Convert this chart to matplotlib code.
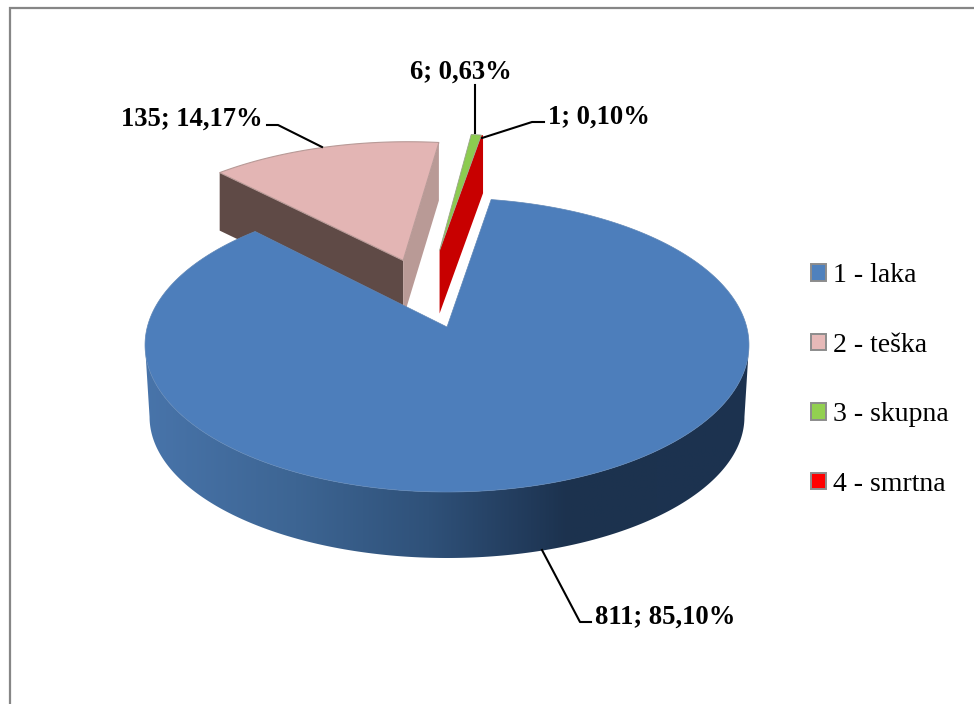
#!/usr/bin/env python3
"""3D looking exploded pie, built from polygons with a small perspective model."""

import numpy as np
import matplotlib
matplotlib.use('Agg')
import matplotlib.pyplot as plt
from matplotlib.colors import LinearSegmentedColormap
from matplotlib.patches import Patch, Polygon

categories = ['1 - laka', '2 - teška', '3 - skupna', '4 - smrtna']
counts = [811, 135, 6, 1]

top_colors = ['#4D7EBB', '#E3B5B4', '#8CCB50', '#C80000']
legend_colors = ['#4F81BD', '#E6B9B8', '#92D050', '#FF0000']

# pie geometry in pixels
TIP_X, TIP_Y = 447, 327
K_X, K_Y, PERSP = 299.7, 144.8, 0.1224
START_ANGLE = 9.5

# explode offset of each slice on the disc plane, radius and extrusion depth
offsets = [(0, 0), (-0.155, 0.487), (-0.0265, 0.565), (-0.0265, 0.565)]
radii = [1, 1.03, 1.03, 1.03]
depths = [66, 58, 58, 58]

plt.rcParams['font.family'] = ['Liberation Serif', 'DejaVu Serif']


def project(u, v):
    w = 1 + PERSP * np.asarray(v)
    return TIP_X + K_X * np.asarray(u) / w, TIP_Y - K_Y * np.asarray(v) / w


def rim(a0, a1, offset, radius=1, n=200):
    t = np.radians(np.linspace(a0, a1, n))
    return project(radius * np.sin(t) + offset[0], radius * np.cos(t) + offset[1])


def face(x, y, color, zorder, edge='none', lw=0):
    ax.add_patch(Polygon(np.column_stack([x, y]), closed=True, facecolor=color,
                         edgecolor=edge, linewidth=lw, zorder=zorder))


fig = plt.figure(figsize=(9.74, 7.04), dpi=100)
ax = fig.add_axes([0, 0, 1, 1])
ax.axis('off')

# slice angles, clockwise from the top
fractions = np.array(counts) / sum(counts)
edges = START_ANGLE + 360 * np.concatenate([[0], np.cumsum(fractions)])

# pink slice: two cut faces and the top
a0, a1 = edges[1], edges[2]
tx, ty = project(*offsets[1])
rx, ry = rim(a0, a1, offsets[1], radii[1])
d = depths[1]
face([tx, rx[0], rx[0], tx], [ty, ry[0], ry[0] + d, ty + d], '#5F4A46', 2)
face([tx, rx[-1], rx[-1], tx], [ty, ry[-1], ry[-1] + d, ty + d], '#B99A96', 2)
face(np.r_[tx, rx], np.r_[ty, ry], top_colors[1], 3, edge='#B89A97', lw=0.8)

# red slice, mostly its cut face
a0, a1 = edges[3], edges[4]
tx, ty = project(*offsets[3])
rx, ry = rim(a0, a1, offsets[3], radii[3])
d = depths[3]
face([tx, rx[0], rx[-1], rx[-1], tx], [ty, ry[0], ry[-1], ry[-1] + d, ty + d + 5],
     top_colors[3], 4)

# green slice sits on top of the red one at the far end
a0, a1 = edges[2], edges[3]
tx, ty = project(*offsets[2])
rx, ry = rim(a0, a1, offsets[2], radii[2])
face(np.r_[tx, rx], np.r_[ty, ry], top_colors[2], 5, edge='#9AA58A', lw=0.6)

# blue slice: outer wall with horizontal shading, then the top
a0, a1 = edges[0], edges[1]
d = depths[0]
side = np.degrees(np.arccos(-PERSP))
wx, wy = rim(side, 360 - side, offsets[0])
bx = TIP_X + (wx - TIP_X) * 0.985
by = wy + d + (wy.max() - wy) * 0.04
wall = Polygon(np.column_stack([np.r_[wx, bx[::-1]], np.r_[wy, by[::-1]]]),
               closed=True, facecolor='none', edgecolor='none')
ax.add_patch(wall)
shade = LinearSegmentedColormap.from_list(
    'wall', [(0, '#4874AA'), (0.25, '#3D6593'), (0.47, '#2F5179'),
             (0.64, '#213A5A'), (0.70, '#1C324E'), (1, '#1C3350')])
img = ax.imshow(np.linspace(0, 1, 256)[None, :], cmap=shade, aspect='auto',
                extent=[wx.min(), wx.max(), by.max(), wy.min()], zorder=6)
img.set_clip_path(wall)

rx, ry = rim(a0, a1, offsets[0], radii[0], n=600)
face(np.r_[TIP_X, rx], np.r_[TIP_Y, ry], top_colors[0], 7, edge='#5F86B6', lw=0.5)

ax.set_xlim(0, 974)
ax.set_ylim(704, 0)

# chart frame: only left and top edges fall inside the picture
ax.plot([10, 10, 974], [704, 8, 8], color='#868686', lw=1.6, zorder=1,
        solid_joinstyle='miter')

# leader lines and data labels
leaders = [([542, 580, 591], [550, 622, 622]),
           ([267, 278, 322], [125, 125, 147]),
           ([475, 475], [85, 133]),
           ([544, 532, 482], [122, 122, 138])]
label_pos = [(595, 617), (121, 119), (410, 72), (548, 117)]
for n, frac, (lx, ly), (px, py) in zip(counts, fractions, leaders, label_pos):
    ax.plot(lx, ly, color='black', lw=1.5, zorder=8)
    text = f'{n}; {frac * 100:.2f}%'.replace('.', ',')
    ax.text(px, py, text, fontsize=19.2, fontweight='bold', ha='left', va='center',
            color='black', zorder=9)

handles = [Patch(facecolor=c, edgecolor='#8C8C8C', linewidth=1.4) for c in legend_colors]
ax.legend(handles, categories, loc='center left', bbox_to_anchor=(811 / 974, 1 - 380 / 704),
          frameon=False, fontsize=20, handlelength=0.54, handleheight=0.54,
          handletextpad=0.26, labelspacing=1.60, borderpad=0, borderaxespad=0)

fig.savefig('out.png', dpi=100)
